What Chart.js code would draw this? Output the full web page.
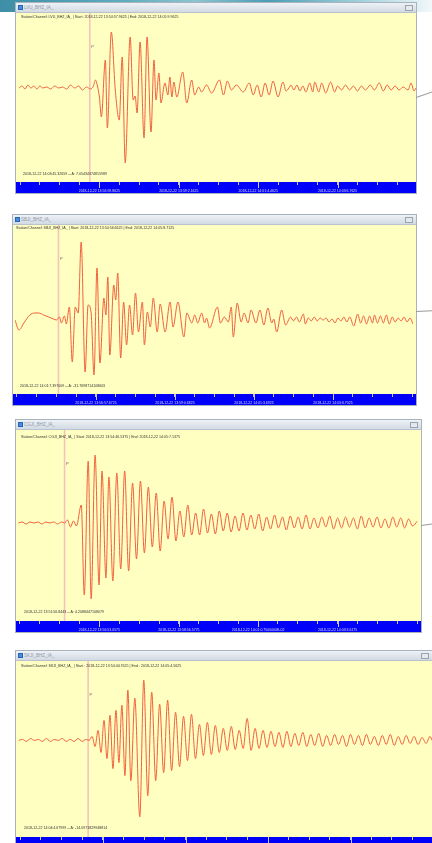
<!DOCTYPE html>
<html>
<head>
<meta charset="utf-8">
<script src="https://cdn.jsdelivr.net/npm/chart.js@4.4.1/dist/chart.umd.min.js"></script>
<style>
  body { margin: 0; width: 432px; height: 843px; position: relative; overflow: hidden; background: #fff; font-family: "Liberation Sans", Arial, sans-serif; }
  .sky { position: absolute; left: 0; top: 0; width: 432px; height: 12px; background: linear-gradient(90deg, #3d8ea6, #62aebf 30%, #8cc4cf 45%, #4b9db4 62%, #a9d4de 85%, #f2f8fa); }
  .win { position: absolute; outline: 1px solid #a9b3bd; background: #ffffc2; }
  .bar { position: absolute; left: 0; right: 0; top: 0; height: 10px; background: linear-gradient(#eef2f6, #d2dae3); border-bottom: 1px solid #b9c3cd; box-sizing: border-box; }
  .ico { position: absolute; left: 2px; top: 2px; width: 5px; height: 5px; background: #4a8ad6; border: 1px solid #2366b8; box-sizing: border-box; }
  .ttl { position: absolute; left: 8px; top: 2px; font-size: 4.5px; line-height: 6px; color: #8d9aa8; white-space: nowrap; }
  .btn { position: absolute; right: 3px; top: 2px; width: 8px; height: 6px; border: 1px solid #9aa4ae; background: #e4e9ee; box-sizing: border-box; }
  .win canvas { position: absolute; left: 0; }
  .hdr, .note { position: absolute; font-size: 3.6px; line-height: 4px; color: #333; white-space: nowrap; }
  .wire { position: absolute; height: 1px; background: #9a9a9a; transform-origin: 0 0; }
</style>
</head>
<body>
<div class="sky"></div>
<script>
// ---- LVU_BHZ_IA_ (seconds from record start, amplitude) ----
const lvuTime = [0,4.5,9,13.5,18,22.5,27,31.5,36,42,48,54,60,66,72,78,84,90,96,102,108,112.5,
  115.5,118.5,121.5,124.5,130.5,133.5,139.5,145.5,151.5,156,160.5,168,172.5,175.5,178.5,183,189,193.5,199.5,204,207,211.5,214.5,220.5,225,228,231,234,238.5,247.5,253.5,261,265.5,271.5,276,283.5,291,303,309,315,321,328.5,339,348,354,360,366,372,378,384,391.5,399,403.5,408,
  411,415.5,420,424.5,429,433.5,439.5,444,447,453,457.5,463.5,471,477,481.5,487.5,493.5,499.5,505.5,511.5,517.5,523.5,531,537,544.5,550.5,556.5,562.5,568.5,574.5,580.5,588,592.5,597,600];
const lvuAmp = [0,2,-1,3,0,2,-1,2,0,1,-1,2,0,1,-1,3,0,2,-2,1,-1,2,
  8,2,-9,-29,28,-40,56,-2,-32,31,-75,51,-12,-8,-25,46,-50,51,-44,28,-12,15,-15,5,-7,11,-9,6,-9,16,-15,8,-7,1,-4,3,-5,8,-7,7,-2,3,-4,5,-7,3,-9,5,-7,7,-9,6,-3,0,
  3,-2,3,-3,2,-4,5,-4,6,-4,5,-5,6,-4,2,-2,3,-2,2,-3,2,-2,3,-2,5,-3,3,-2,2,-2,1,-2,5,-3,0];
const lvuP = 107;
const lvuTicks = [121.5, 241.5, 361.5, 481.5];
const lvuTickLabels = ['2018-12-22 13:56:59.8625', '2018-12-22 13:59:2.1625', '2018-12-22 14:01:4.4625', '2018-12-22 14:03:6.7625'];

// ---- SBJI_BHZ_IA_ ----
const sbjiTime = [0,6,13.5,22.5,30,36,43.5,51,58.5,63,67.5,70.5,75,78,82.5,87,91.5,96,100.5,106.5,
  111,115.5,120,124.5,129,135,138,141,144,150,153,156,160.5,165,169.5,174,178.5,183,187.5,193.5,
  196.5,201,205.5,210,216,220.5,228,235.5,240,247.5,256.5,261,268.5,273,277.5,283.5,288,291,295.5,307.5,
  312,318,324,328.5,331.5,337.5,343.5,348,354,358.5,366,372,378,384,390,393,397.5,405,411,418.5,
  423,427.5,432,438,441,445.5,450,454.5,459,463.5,468,472.5,477,481.5,486,490.5,495,499.5,504,508.5,
  514.5,520.5,525,529.5,534,538.5,543,546,550.5,555,559.5,564,568.5,573,577.5,582,586.5,591,595.5,600,604.5];
const sbjiAmp = [0,-10,-3,5,7,7,5,3,1,0,3,-3,4,-4,13,-42,13,7,78,-52,
  15,8,-55,52,-43,22,5,43,-35,35,20,47,-38,18,-25,15,-15,27,-12,18,
  -25,8,-7,22,-12,16,-12,18,-7,18,-17,7,-3,5,-3,7,-3,2,-8,13,
  -3,3,-2,13,-17,17,-2,7,-3,10,-3,10,-5,12,-3,1,-12,10,-5,3,
  -1,3,-2,6,-4,2,-1,3,-1,2,0,2,-2,1,-3,2,-1,3,-2,3,
  -6,6,-3,4,-4,4,-3,5,-3,4,-3,5,-4,3,-2,2,-1,3,-2,2,-4];
const sbjiP = 66;
const sbjiTicks = [123, 243, 363, 483];
const sbjiTickLabels = ['2018-12-22 13:56:57.6725', '2018-12-22 13:59:0.6825', '2018-12-22 14:01:3.6925', '2018-12-22 14:03:6.7025'];

// ---- CGJI_BHZ_IA_ ----
const cgjiTime = [0,6,12,18,24,30,36,42,48,54,60,66,70.5,75,79.5,84,88.5,96,100.5,106.5,111,117,123,127.5,133.5,138,
  144,150,156,162,168,174,180,186,192,198,204,210,216,222,228,234,240,246,252,258,264,270,276,282,288,294,300,
  306,312,318,324,330,336,342,348,354,360,366,372,378,384,390,396,402,408,414,420,426,432,438,444,450,456,462,
  468,474,480,486,492,498,504,510,516,522,528,534,540,546,552,558,564,570,576,582,588,594,600,607.5];
const cgjiAmp = [0,1,-1,1,0,1,-1,1,0,1,-1,1,0,3,-4,2,-3,18,-72,62,-76,68,-62,52,-55,46,
  -58,50,-46,52,-48,40,-36,42,-30,36,-24,30,-28,22,-16,26,-18,12,-14,18,-12,10,-12,14,-10,9,-11,
  12,-8,10,-9,7,-8,10,-7,8,-6,9,-8,6,-6,8,-5,6,-7,7,-5,6,-6,8,-6,5,-5,6,-4,
  7,-6,5,-5,6,-4,5,-6,7,-5,5,-4,6,-5,4,-5,6,-4,5,-5,4,-3,2];
const cgjiP = 70.5;
const cgjiTicks = [123.5, 244.5, 365, 486];
const cgjiTickLabels = ['2018-12-22 13:56:53.0575', '2018-12-22 13:58:56.5775', '2018-12-22 14:01:0.7500000E-02', '2018-12-22 14:03:3.6175'];

// ---- SKJI_BHZ_IA_ ----
const skjiTime = [0,6,12,18,24,30,36,42,48,54,60,66,72,78,84,90,96,102,
  106.5,111,115.5,120,124.5,129,133.5,138,142.5,147,151.5,156,160.5,165,169.5,175.5,183,
  189,195,201,207,213,219,225,231,237,243,249,255,261,267,273,279,285,291,297,303,
  309,315,321,327,333,339,345,351,357,363,369,375,381,387,393,399,405,411,417,423,
  429,435,441,447,453,459,465,471,477,483,489,495,501,507,513,519,525,531,537,543,
  549,555,561,567,573,579,585,591,597,603,609,615,621,624];
const skjiAmp = [0,1,-1,2,0,1,-1,2,-1,1,0,2,-1,1,-1,2,-1,1,
  0,4,-6,10,-12,20,-18,25,-28,30,-22,35,-35,50,-40,42,-76,
  60,-55,48,-40,36,-32,40,-30,28,-26,24,-20,26,-18,16,-15,18,-14,15,-12,
  12,-10,14,-9,10,-8,22,-10,12,-8,10,-7,9,-6,8,-7,9,-6,7,-5,
  8,-6,6,-5,7,-6,5,-5,6,-4,5,-6,6,-4,5,-5,6,-4,4,-5,
  5,-4,6,-5,4,-4,5,-3,4,-4,3,-3,4,0];
const skjiP = 105;
const skjiTicks = [127, 252, 376.5, 501];
const skjiTickLabels = ['2018-12-22 13:56:51.3625', '2018-12-22 13:58:56.3625', '2018-12-22 14:01:1.3625', '2018-12-22 14:03:6.3625'];

const stations = ['LVU_BHZ_IA_', 'SBJI_BHZ_IA_', 'CGJI_BHZ_IA_', 'SKJI_BHZ_IA_'];
const headers = [
  'Station/Channel:  LVU_BHZ_IA_  |   Start:  2018-12-22 13:54:57.9625 | End:  2018-12-22 14:05:9.9625',
  'Station/Channel:  SBJI_BHZ_IA_  |   Start:  2018-12-22 13:54:56.6625 | End:  2018-12-22 14:05:8.7125',
  'Station/Channel:  CGJI_BHZ_IA_  |   Start:  2018-12-22 13:54:46.5375 | End:  2018-12-22 14:05:7.1375',
  'Station/Channel:  SKJI_BHZ_IA_  |   Start :  2018-12-22 13:54:44.7625 | End :  2018-12-22 14:05:4.5625'
];
const notes = [
  '2018-12-22 14:03:45.32659 -- A: 7.05434374815989',
  '2018-12-22 14:01:7.397009 -- A: -31.7698714108603',
  '2018-12-22 13:51:56.8443 -- A: 4.2088447108079',
  '2018-12-22 14:04:4.67999 -- A: -14.0971829948814'
];

// window boxes on the page (px)
const layout = [
  {left: 16, top: 3,   width: 400, canvasH: 180, hdrX: 5, hdrY: 2,  noteX: 7, noteY: 159, yMin: -94, yMax: 75, step: 30},
  {left: 13, top: 215, width: 403, canvasH: 180, hdrX: 3, hdrY: 1,  noteX: 7, noteY: 159, yMin: -74, yMax: 95, step: 30},
  {left: 16, top: 420, width: 405, canvasH: 202, hdrX: 5, hdrY: 5,  noteX: 8, noteY: 180, yMin: -98, yMax: 93, step: 30.2},
  {left: 16, top: 651, width: 416, canvasH: 187, hdrX: 5, hdrY: 3,  noteX: 8, noteY: 165, yMin: -96, yMax: 79, step: 31.2}
];

const series = [
  {time: lvuTime, amp: lvuAmp, p: lvuP, majors: lvuTicks, labels: lvuTickLabels},
  {time: sbjiTime, amp: sbjiAmp, p: sbjiP, majors: sbjiTicks, labels: sbjiTickLabels},
  {time: cgjiTime, amp: cgjiAmp, p: cgjiP, majors: cgjiTicks, labels: cgjiTickLabels},
  {time: skjiTime, amp: skjiAmp, p: skjiP, majors: skjiTicks, labels: skjiTickLabels}
];

function buildTicks(majors, labels, step, span) {
  const out = [];
  for (let v = majors[0] - step; v > 0; v -= step) out.unshift({value: v, label: ''});
  majors.forEach((m, i) => {
    out.push({value: m, label: labels[i], major: true});
    const last = i === majors.length - 1;
    const gap = last ? step : (majors[i + 1] - m) / 4;
    for (let k = 1; k < 4; k++) if (m + k * gap < span) out.push({value: m + k * gap, label: ''});
    if (last) for (let v = m + 4 * step; v < span; v += step) out.push({value: v, label: ''});
  });
  return out;
}

// yellow plot, blue time band, pink P pick, longer major ticks
const seismo = {
  id: 'seismo',
  beforeDraw(chart) {
    const {ctx, chartArea: a} = chart;
    ctx.save();
    ctx.fillStyle = '#ffffc2';
    ctx.fillRect(0, 0, chart.width, a.bottom);
    ctx.fillStyle = '#0000fa';
    ctx.fillRect(0, a.bottom, chart.width, chart.height - a.bottom);
    ctx.restore();
  },
  beforeDatasetsDraw(chart, args, opts) {
    const {ctx, chartArea: a} = chart;
    const x = chart.scales.x.getPixelForValue(opts.p);
    ctx.save();
    ctx.strokeStyle = 'rgba(245,185,185,0.85)';
    ctx.lineWidth = 1.6;
    ctx.beginPath(); ctx.moveTo(x, a.top); ctx.lineTo(x, a.bottom); ctx.stroke();
    ctx.fillStyle = '#666';
    ctx.font = '4px "Liberation Sans"';
    ctx.fillText('P', x + 1.5, a.top + 35);
    ctx.restore();
  },
  afterDraw(chart, args, opts) {
    const {ctx, chartArea: a} = chart;
    ctx.save();
    ctx.strokeStyle = '#c8c8dc';
    ctx.lineWidth = 1;
    opts.majors.forEach(v => {
      const x = Math.round(chart.scales.x.getPixelForValue(v)) + 0.5;
      ctx.beginPath(); ctx.moveTo(x, a.bottom); ctx.lineTo(x, a.bottom + 6); ctx.stroke();
    });
    ctx.restore();
  }
};

layout.forEach((box, n) => {
  const s = series[n];
  const span = box.width * 1.5;
  const win = document.createElement('div');
  win.className = 'win';
  Object.assign(win.style, {left: box.left + 'px', top: box.top + 'px', width: box.width + 'px', height: (10 + box.canvasH) + 'px'});
  win.innerHTML = '<div class="bar"><span class="ico"></span><span class="ttl">' + stations[n] + '</span><span class="btn"></span></div>';
  const cv = document.createElement('canvas');
  cv.width = box.width; cv.height = box.canvasH;
  cv.style.top = '10px'; cv.style.width = box.width + 'px'; cv.style.height = box.canvasH + 'px';
  win.appendChild(cv);
  const hdr = document.createElement('div');
  hdr.className = 'hdr'; hdr.textContent = headers[n];
  hdr.style.left = box.hdrX + 'px'; hdr.style.top = (10 + box.hdrY) + 'px';
  win.appendChild(hdr);
  const note = document.createElement('div');
  note.className = 'note'; note.textContent = notes[n];
  note.style.left = box.noteX + 'px'; note.style.top = (10 + box.noteY) + 'px';
  win.appendChild(note);
  document.body.appendChild(win);

  const ticks = buildTicks(s.majors, s.labels, box.step, span);

  new Chart(cv, {
    type: 'line',
    data: {
      datasets: [{
        data: s.time.map((t, i) => ({x: t, y: s.amp[i]})),
        borderColor: '#f2603e',
        borderWidth: 1,
        pointRadius: 0,
        cubicInterpolationMode: 'monotone'
      }]
    },
    options: {
      responsive: false,
      animation: false,
      devicePixelRatio: 1,
      events: [],
      layout: {padding: 0},
      plugins: {
        legend: {display: false},
        tooltip: {enabled: false},
        seismo: {p: s.p, majors: s.majors}
      },
      scales: {
        x: {
          type: 'linear', min: 0, max: span,
          afterFit: sc => { sc.height = 11; },
          afterBuildTicks: sc => { sc.ticks = ticks.map(t => ({value: t.value})); },
          border: {display: false},
          grid: {drawOnChartArea: false, drawTicks: true, tickLength: 3, tickColor: '#c4c4dc'},
          ticks: {
            autoSkip: false, maxRotation: 0, minRotation: 0, padding: 4,
            color: '#dcdcf6', font: {size: 3.5, family: 'Liberation Sans'},
            callback: (v, i) => ticks[i] ? ticks[i].label : ''
          }
        },
        y: {display: false, min: box.yMin, max: box.yMax}
      }
    },
    plugins: [seismo]
  });
});

// grey leader lines leaving the right side of the windows
[[416, 97, 17, -19], [416, 311, 16, -3], [421, 525, 11, -8]].forEach(w => {
  const d = document.createElement('div');
  d.className = 'wire';
  Object.assign(d.style, {left: w[0] + 'px', top: w[1] + 'px', width: w[2] + 'px', transform: 'rotate(' + w[3] + 'deg)'});
  document.body.appendChild(d);
});
</script>
</body>
</html>
